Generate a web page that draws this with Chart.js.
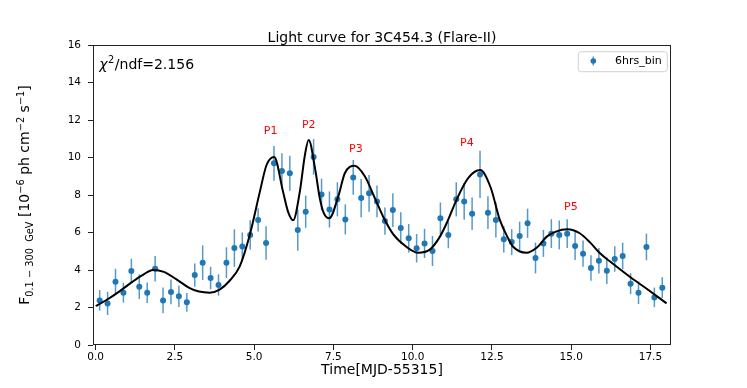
<!DOCTYPE html>
<html><head><meta charset="utf-8">
<script src="https://cdn.jsdelivr.net/npm/chart.js@4.4.1/dist/chart.umd.min.js"></script>
<style>html,body{margin:0;padding:0;background:#fff;} canvas{display:block;}</style>
</head><body>
<canvas id="c" width="747" height="388"></canvas>
<script>
// ---- data ----
const times = [0.125,0.375,0.625,0.875,1.125,1.375,1.625,1.875,2.125,2.375,2.625,2.875,3.125,3.375,3.625,3.875,4.125,4.375,4.625,4.875,5.125,5.375,5.625,5.875,6.125,6.375,6.625,6.875,7.125,7.375,7.625,7.875,8.125,8.375,8.625,8.875,9.125,9.375,9.625,9.875,10.125,10.375,10.625,10.875,11.125,11.375,11.625,11.875,12.125,12.375,12.625,12.875,13.125,13.375,13.625,13.875,14.125,14.375,14.625,14.875,15.125,15.375,15.625,15.875,16.125,16.375,16.625,16.875,17.125,17.375,17.625,17.875];
const flux = [2.38,2.22,3.38,2.79,3.95,3.11,2.79,4.07,2.38,2.83,2.60,2.28,3.73,4.39,3.57,3.20,4.39,5.17,5.26,5.87,6.67,5.44,9.69,9.28,9.16,6.13,7.11,10.03,8.03,7.23,7.77,6.70,8.94,7.84,8.09,7.66,6.61,7.20,6.24,5.69,5.16,5.42,5.01,6.76,5.87,7.77,7.66,7.00,9.10,7.06,6.67,5.64,5.49,5.81,6.49,4.64,5.42,5.94,5.87,5.94,5.28,4.87,4.11,4.50,3.96,4.59,4.75,3.27,2.79,5.23,2.54,3.06];
const fluxErr = [0.55,0.62,0.68,0.53,0.65,0.66,0.55,0.68,0.69,0.66,0.57,0.50,0.62,0.92,0.60,0.57,0.82,1.00,0.74,0.78,0.62,0.89,0.93,0.95,0.93,1.10,0.86,0.95,0.84,0.96,0.91,0.80,0.93,1.02,0.98,0.85,0.73,0.90,0.84,0.76,0.76,0.78,0.80,0.84,0.71,0.91,0.98,0.87,1.26,0.87,0.93,0.71,0.69,0.77,0.78,0.82,0.72,0.77,0.77,0.77,0.75,0.70,0.68,0.68,0.71,0.68,0.71,0.56,0.60,0.71,0.52,0.56];
const fitTimes = [0.0,0.34,0.74,1.14,1.45,1.81,2.15,2.55,2.95,3.26,3.6,3.91,4.21,4.54,4.86,5.18,5.39,5.63,5.91,6.07,6.23,6.44,6.6,6.72,6.92,7.07,7.2,7.37,7.65,7.86,8.17,8.49,8.79,9.07,9.39,9.8,10.17,10.55,10.86,11.1,11.38,11.75,12.13,12.46,12.75,13.01,13.17,13.59,13.92,14.23,14.52,14.88,15.27,15.58,15.91,16.23,16.53,16.85,17.34,18.01];
const fitFlux = [2.08,2.4,2.85,3.35,3.7,4.0,3.9,3.5,3.05,2.85,2.79,2.95,3.4,4.18,5.87,8.18,9.6,10.03,8.18,7.1,6.65,8.18,10.13,10.93,9.42,7.82,7.02,6.76,7.91,9.16,9.56,9.0,7.9,6.84,5.9,5.24,4.92,5.1,5.78,6.6,7.73,8.9,9.33,8.4,6.67,5.7,5.24,4.92,5.2,5.78,6.05,6.17,5.96,5.5,4.89,4.45,4.05,3.64,3.05,2.22];
const xTicks = [0, 2.5, 5, 7.5, 10, 12.5, 15, 17.5];
const yTicks = [0, 2, 4, 6, 8, 10, 12, 14, 16];
const peakNames = ['P1','P2','P3','P4','P5'];
const peakX = [5.52, 6.72, 8.21, 11.71, 14.99];
const peakY = [11.38, 11.74, 10.45, 10.78, 7.35];
const titleText = 'Light curve for 3C454.3 (Flare-II)';
const xLabelText = 'Time[MJD-55315]';
const legendText = '6hrs_bin';
const chiValue = '2.156';

const FONT = '"DejaVu Sans", "Liberation Sans", sans-serif';
const BLUE = '#1f77b4';

const decor = {
  id: 'decor',
  beforeDatasetsDraw(chart) {
    const ctx = chart.ctx, xs = chart.scales.x, ys = chart.scales.y;
    ctx.save();
    ctx.strokeStyle = 'rgba(31,119,180,0.75)';
    ctx.lineWidth = 1.5;
    for (let i = 0; i < times.length; i++) {
      const px = xs.getPixelForValue(times[i]);
      const y1 = ys.getPixelForValue(flux[i] - fluxErr[i]);
      const y2 = ys.getPixelForValue(flux[i] + fluxErr[i]);
      ctx.beginPath(); ctx.moveTo(px, y1); ctx.lineTo(px, y2); ctx.stroke();
    }
    ctx.restore();
  },
  afterDraw(chart) {
    const ctx = chart.ctx, a = chart.chartArea, xs = chart.scales.x, ys = chart.scales.y;
    ctx.save();
    // frame
    ctx.strokeStyle = '#222'; ctx.lineWidth = 1;
    ctx.strokeRect(Math.round(a.left) + 0.5, Math.round(a.top) + 0.5, Math.round(a.right - a.left) - 1, Math.round(a.bottom - a.top) - 1);
    // title
    ctx.fillStyle = '#000';
    ctx.font = '14px ' + FONT;
    ctx.textAlign = 'center'; ctx.textBaseline = 'alphabetic';
    ctx.fillText(titleText, (a.left + a.right) / 2, 42);
    // x label
    ctx.fillText(xLabelText, (a.left + a.right) / 2, 374);
    // y label with sub/superscripts
    const big = '14px ' + FONT, small = '9.8px ' + FONT;
    const segs = [
      ['F', big, 0], ['0.1 \u2212 300  GeV', small, 3.5], [' [10', big, 0], ['\u22126', small, -5.5],
      [' ph cm', big, 0], ['\u22122', small, -5.5], [' s', big, 0], ['\u22121', small, -5.5], [']', big, 0]
    ];
    let total = 0;
    for (const s of segs) { ctx.font = s[1]; total += ctx.measureText(s[0]).width; }
    ctx.save();
    ctx.translate(29, (a.top + a.bottom) / 2);
    ctx.rotate(-Math.PI / 2);
    ctx.textAlign = 'left';
    let cx = -total / 2;
    for (const s of segs) { ctx.font = s[1]; ctx.fillText(s[0], cx, s[2]); cx += ctx.measureText(s[0]).width; }
    ctx.restore();
    // chi2 text
    ctx.textAlign = 'left';
    let tx = 99.3; const by = 69.3;
    ctx.font = 'italic 14px ' + FONT; ctx.fillText('\u03c7', tx, by); tx += ctx.measureText('\u03c7').width + 0.5;
    ctx.font = '9.8px ' + FONT; ctx.fillText('2', tx, by - 6); tx += ctx.measureText('2').width + 0.5;
    ctx.font = '14px ' + FONT; ctx.fillText('/ndf=' + chiValue, tx, by);
    // peak labels
    ctx.fillStyle = '#ff0000'; ctx.font = '11px ' + FONT; ctx.textAlign = 'center'; ctx.textBaseline = 'middle';
    for (let i = 0; i < peakNames.length; i++) {
      ctx.fillText(peakNames[i], xs.getPixelForValue(peakX[i]), ys.getPixelForValue(peakY[i]));
    }
    // legend
    const lx = 578.3, ly = 51.7, lw = 89, lh = 20, r = 3;
    ctx.beginPath();
    ctx.moveTo(lx + r, ly); ctx.lineTo(lx + lw - r, ly); ctx.quadraticCurveTo(lx + lw, ly, lx + lw, ly + r);
    ctx.lineTo(lx + lw, ly + lh - r); ctx.quadraticCurveTo(lx + lw, ly + lh, lx + lw - r, ly + lh);
    ctx.lineTo(lx + r, ly + lh); ctx.quadraticCurveTo(lx, ly + lh, lx, ly + lh - r);
    ctx.lineTo(lx, ly + r); ctx.quadraticCurveTo(lx, ly, lx + r, ly); ctx.closePath();
    ctx.fillStyle = 'rgba(255,255,255,0.8)'; ctx.fill();
    ctx.strokeStyle = '#d0d0d0'; ctx.lineWidth = 1; ctx.stroke();
    ctx.strokeStyle = 'rgba(31,119,180,0.75)'; ctx.lineWidth = 1.5;
    ctx.beginPath(); ctx.moveTo(593.3, 56.5); ctx.lineTo(593.3, 65.5); ctx.stroke();
    ctx.fillStyle = BLUE; ctx.beginPath(); ctx.arc(593.3, 61, 2.8, 0, Math.PI * 2); ctx.fill();
    ctx.fillStyle = '#000'; ctx.font = '11px ' + FONT; ctx.textAlign = 'left'; ctx.textBaseline = 'middle';
    ctx.fillText(legendText, 615, 61.5);
    ctx.restore();
  }
};

new Chart(document.getElementById('c'), {
  type: 'scatter',
  data: {
    datasets: [
      {
        type: 'line', label: 'fit',
        data: fitTimes.map((t, i) => ({ x: t, y: fitFlux[i] })),
        borderColor: '#000', borderWidth: 2, pointRadius: 0, fill: false,
        cubicInterpolationMode: 'monotone'
      },
      {
        label: legendText,
        data: times.map((t, i) => ({ x: t, y: flux[i] })),
        backgroundColor: BLUE, borderColor: BLUE, pointRadius: 3, pointBorderWidth: 0
      }
    ]
  },
  options: {
    responsive: false, animation: false, devicePixelRatio: 1,
    layout: { padding: { left: 0, right: 76, top: 45, bottom: 0 } },
    plugins: { legend: { display: false }, title: { display: false }, tooltip: { enabled: false } },
    scales: {
      x: {
        type: 'linear', min: -0.085, max: 18.15,
        afterBuildTicks: s => { s.ticks = xTicks.map(v => ({ value: v })); },
        afterFit: s => { s.height = 43; },
        ticks: { callback: v => Number(v).toFixed(1), color: '#000', font: { family: FONT, size: 10.5 }, padding: 1, maxRotation: 0, autoSkip: false },
        grid: { display: true, drawOnChartArea: false, drawTicks: true, tickLength: 5, color: '#222' },
        border: { display: false }
      },
      y: {
        type: 'linear', min: 0, max: 16,
        afterBuildTicks: s => { s.ticks = yTicks.map(v => ({ value: v })); },
        afterFit: s => { s.width = 93; },
        ticks: { callback: v => String(v), color: '#000', font: { family: FONT, size: 10.5 }, padding: 7, autoSkip: false },
        grid: { display: true, drawOnChartArea: false, drawTicks: true, tickLength: 5, color: '#222' },
        border: { display: false }
      }
    }
  },
  plugins: [decor]
});
</script>
</body></html>
